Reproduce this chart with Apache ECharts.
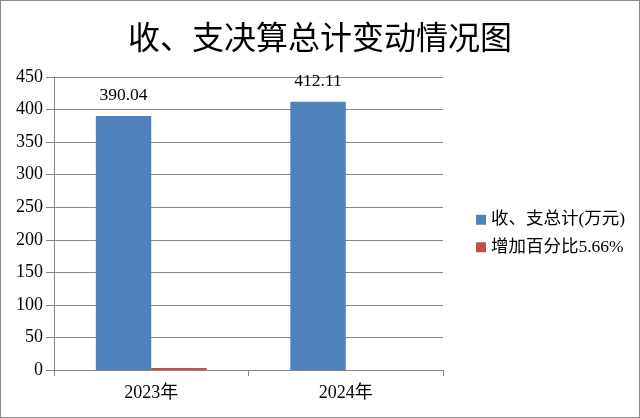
<!DOCTYPE html>
<html><head><meta charset="utf-8">
<script src="https://cdn.jsdelivr.net/npm/echarts@6/dist/echarts.min.js"></script>
<style>
html,body{margin:0;padding:0;background:#fff;}
#c{width:638px;height:416px;border:1px solid #8a8a8a;}
</style></head>
<body><div id="c"></div>
<script>
const title = '收、支决算总计变动情况图';
const categories = ['2023年', '2024年'];
const totalName = '收、支总计(万元)';
const totalValues = [390.04, 412.11];
const pctName = '增加百分比5.66%';
const pctValues = [3, null];
const yTicks = {min: 0, max: 450, interval: 50};

const serif = '"Liberation Serif","Noto Sans CJK SC",serif';
const chart = echarts.init(document.getElementById('c'), null, {renderer: 'canvas'});
chart.setOption({
  animation: false,
  backgroundColor: '#fff',
  title: {
    text: title, left: 'center', top: 15,
    textStyle: {fontFamily: '"Noto Sans CJK SC",sans-serif', fontSize: 32, fontWeight: 'normal', color: '#000'}
  },
  legend: {
    orient: 'vertical', left: 470, top: 205, itemWidth: 10, itemHeight: 10, itemGap: 10,
    icon: 'rect',
    textStyle: {fontFamily: serif, fontSize: 17.5, color: '#000'},
    data: [totalName, pctName]
  },
  grid: {left: 53, right: 196, top: 76, bottom: 47, containLabel: false},
  xAxis: {
    type: 'category', data: categories,
    axisLine: {lineStyle: {color: '#888', width: 1}},
    axisTick: {show: true, length: 6, lineStyle: {color: '#888'}},
    axisLabel: {fontFamily: serif, fontSize: 18, color: '#000', margin: 14}
  },
  yAxis: {
    type: 'value', min: yTicks.min, max: yTicks.max, interval: yTicks.interval,
    axisLine: {show: true, lineStyle: {color: '#888'}},
    axisTick: {show: true, length: 8, lineStyle: {color: '#888'}},
    splitLine: {lineStyle: {color: '#888', width: 1}},
    axisLabel: {fontFamily: serif, fontSize: 18, color: '#000', margin: 11}
  },
  series: [
    {name: totalName, type: 'bar', data: totalValues, barCategoryGap: '43%', barGap: '0%',
     itemStyle: {color: '#4f81bd'},
     label: {show: true, position: 'top', distance: 12, fontFamily: serif, fontSize: 17.5, color: '#000'}},
    {name: pctName, type: 'bar', data: pctValues, barCategoryGap: '43%', barGap: '0%',
     itemStyle: {color: '#c0504d'}}
  ]
});
</script></body></html>
